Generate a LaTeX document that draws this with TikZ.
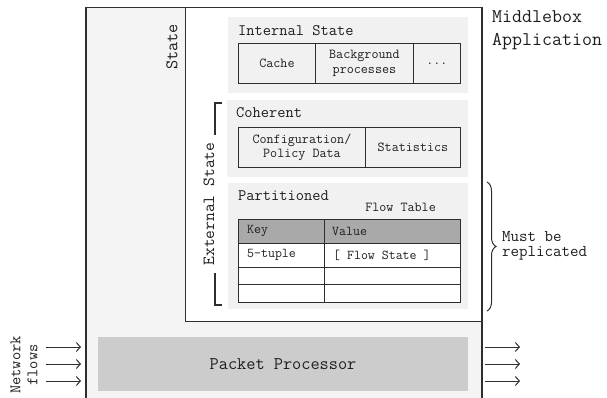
\documentclass[tikz,border=0pt]{standalone}
\usepackage{fontspec}
\usetikzlibrary{decorations.pathreplacing,arrows.meta}
\definecolor{bgray}{HTML}{F3F4F3}
\definecolor{pgray}{HTML}{F0F1F0}
\definecolor{ppgray}{HTML}{CCCCCC}
\definecolor{hgray}{HTML}{A9A9A9}
\definecolor{ln}{HTML}{2E2E2E}
\definecolor{tx}{HTML}{1E1E1E}
\newcommand{\fs}[2]{\ttfamily\fontsize{#1}{#2}\selectfont}
\tikzset{
  every node/.style={text=tx},
  panel/.style={fill=pgray, draw=none, inner sep=0, anchor=north west},
  cell/.style={draw=ln, line width=0.9pt, inner sep=0, anchor=north west, align=center, font=\fs{13.7}{15}},
  title/.style={inner sep=0, anchor=west, font=\fs{16}{17}},
  ctext/.style={inner sep=0, anchor=west, font=\fs{13.5}{14}},
  flow/.style={draw=ln, line width=1pt, -{Straight Barb[length=4pt,width=9pt]}},
  bracket/.style={draw=ln, line width=1.2pt},
}
\begin{document}
\begin{tikzpicture}[x=1pt,y=-1pt]
\useasboundingbox (0,0) rectangle (607,398);
\clip (0,0) rectangle (607,398);
% outer middlebox
\node[draw=ln, line width=1.5pt, fill=bgray, inner sep=0, minimum width=396pt, minimum height=420pt, anchor=north west] (mbox) at (85,7) {};
% state box
\node[draw=ln, line width=1pt, fill=white, inner sep=0, minimum width=296pt, minimum height=314pt, anchor=north west] (state) at (185,7) {};
\node[rotate=90, inner sep=0, font=\fs{17.7}{19}] (statelbl) at (172,47) {State};
% internal state panel
\node[panel, minimum width=240pt, minimum height=76pt] (internal) at (228,17) {};
\node[title] (internallbl) at (238,31) {Internal State};
\node[cell, minimum width=77pt, minimum height=40pt] (cache) at (238,43) {Cache};
\node[cell, minimum width=98pt, minimum height=40pt] (bgproc) at (315,43) {Background\\processes};
\node[cell, minimum width=47pt, minimum height=40pt] (dots) at (413,43) {...};
% coherent panel
\node[panel, minimum width=241pt, minimum height=77pt] (coherent) at (227,100) {};
\node[title] (coherentlbl) at (236,113) {Coherent};
\node[cell, minimum width=127pt, minimum height=40pt, font=\fs{13.7}{14}] (config) at (238,127) {Configuration/\\Policy Data};
\node[cell, minimum width=95pt, minimum height=40pt] (stats) at (365,127) {Statistics};
% partitioned panel
\node[panel, minimum width=240pt, minimum height=126pt] (partitioned) at (228,183) {};
\node[title] (partlbl) at (238,196) {Partitioned};
\node[inner sep=0, anchor=east, font=\fs{13.7}{14}] (ftlbl) at (436,207) {Flow Table};
% flow table
\node[cell, fill=hgray, minimum width=86pt, minimum height=24pt] (hkey) at (238,219) {};
\node[cell, fill=hgray, minimum width=136pt, minimum height=24pt] (hval) at (324,219) {};
\node[cell, fill=white, minimum width=86pt, minimum height=24pt] (r1key) at (238,243) {};
\node[cell, fill=white, minimum width=136pt, minimum height=24pt] (r1val) at (324,243) {};
\node[cell, fill=white, minimum width=86pt, minimum height=17pt] (r2key) at (238,267) {};
\node[cell, fill=white, minimum width=136pt, minimum height=17pt] (r2val) at (324,267) {};
\node[cell, fill=white, minimum width=86pt, minimum height=18pt] (r3key) at (238,284) {};
\node[cell, fill=white, minimum width=136pt, minimum height=18pt] (r3val) at (324,284) {};
\node[ctext] (keytxt) at (247,231) {Key};
\node[ctext] (valtxt) at (332,231) {Value};
\node[ctext] (tupletxt) at (247,255) {5-tuple};
\node[ctext] (fstxt) at (333,255) {[ Flow State ]};
% external state bracket
\coordinate (b1) at (222,103);
\coordinate (b2) at (215,103);
\coordinate (b3) at (215,135);
\coordinate (b4) at (215,273);
\coordinate (b5) at (215,305);
\coordinate (b6) at (222,305);
\draw[bracket] (b1) -- (b2) -- (b3);
\draw[bracket] (b4) -- (b5) -- (b6);
\node[rotate=90, inner sep=0, font=\fs{17}{19}] (extlbl) at (209,204) {External State};
% packet processor
\node[fill=ppgray, draw=none, inner sep=0, minimum width=370pt, minimum height=54pt, anchor=north west] (pp) at (98,337) {};
\node[inner sep=0, font=\fs{17.8}{19}] (pptxt) at (283,364) {Packet Processor};
% network flows
\node[rotate=90, inner sep=0, align=center, font=\fs{16}{17}] (netlbl) at (24,365) {Network\\flows};
\coordinate (i1s) at (46,347); \coordinate (i1e) at (81,347);
\coordinate (i2s) at (46,364); \coordinate (i2e) at (81,364);
\coordinate (i3s) at (46,381); \coordinate (i3e) at (81,381);
\coordinate (o1s) at (485,347); \coordinate (o1e) at (520,347);
\coordinate (o2s) at (485,364); \coordinate (o2e) at (520,364);
\coordinate (o3s) at (485,381); \coordinate (o3e) at (520,381);
\draw[flow] (i1s) -- (i1e);
\draw[flow] (i2s) -- (i2e);
\draw[flow] (i3s) -- (i3e);
\draw[flow] (o1s) -- (o1e);
\draw[flow] (o2s) -- (o2e);
\draw[flow] (o3s) -- (o3e);
% brace
\coordinate (br1) at (487,182);
\coordinate (br2) at (487,311);
\draw[draw=ln, line width=1pt, decorate, decoration={brace, amplitude=9pt}] (br1) -- (br2);
\node[inner sep=0, anchor=west, align=left, font=\fs{16.5}{15.5}] (replbl) at (502,246) {Must be\\replicated};
% title
\node[inner sep=0, anchor=north west, align=left, font=\fs{19.4}{23}] (mblbl) at (492,10) {Middlebox\\Application};
\end{tikzpicture}
\end{document}
